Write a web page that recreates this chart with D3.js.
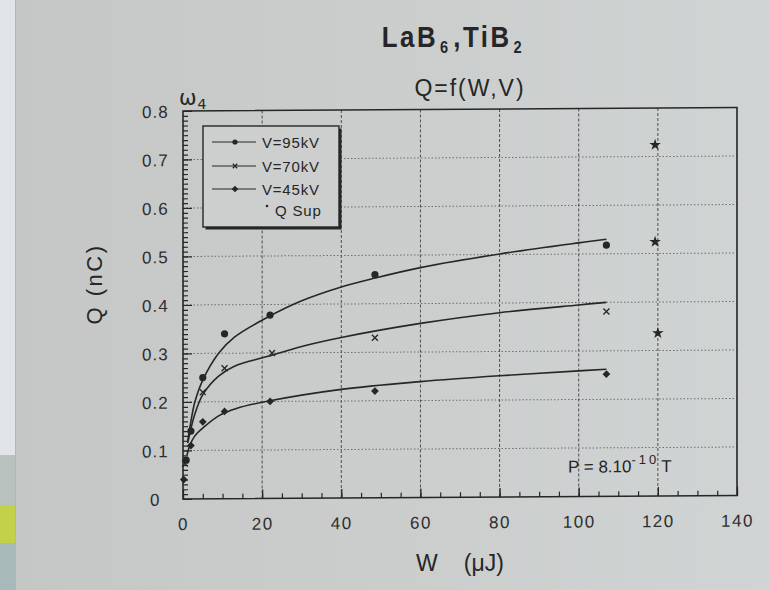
<!DOCTYPE html>
<html><head><meta charset="utf-8">
<script src="https://cdn.jsdelivr.net/npm/d3@7"></script>
<style>html,body{margin:0;padding:0;background:#cbcecc;}svg{display:block;}</style>
</head><body>
<svg id="chart" width="769" height="590"></svg>
<script>
// ---- data ----
const xTicks = [0, 20, 40, 60, 80, 100, 120, 140];
const xTickLabels = ["0", "20", "40", "60", "80", "100", "120", "140"];
const yTicks = [0, 0.1, 0.2, 0.3, 0.4, 0.5, 0.6, 0.7, 0.8];
const yTickLabels = ["0", "0.1", "0.2", "0.3", "0.4", "0.5", "0.6", "0.7", "0.8"];

const seriesNames = ["V=95kV", "V=70kV", "V=45kV", "Q Sup"];

// measured points
const w95 = [0.8, 2, 5, 10.5, 22, 48.5, 107];
const q95 = [0.08, 0.14, 0.25, 0.34, 0.378, 0.46, 0.518];
const w70 = [0.5, 5, 10.5, 22.5, 48.5, 107];
const q70 = [0.073, 0.22, 0.269, 0.30, 0.33, 0.381];
const w45 = [0.2, 2, 5, 10.5, 22, 48.5, 107];
const q45 = [0.04, 0.11, 0.159, 0.18, 0.20, 0.22, 0.252];
const wSup = [119.3, 119.3, 120];
const qSup = [0.724, 0.524, 0.336];

// fitted curves
const cw95 = [1.2, 2, 3, 5, 9, 13, 21, 30, 40, 48.5, 60, 80, 100, 107];
const cq95 = [0.12, 0.16, 0.2, 0.245, 0.3, 0.333, 0.372, 0.407, 0.435, 0.453, 0.474, 0.501, 0.523, 0.530];
const cw70 = [1.2, 2, 3, 5, 9, 13, 21, 30, 40, 60, 80, 100, 107];
const cq70 = [0.115, 0.145, 0.175, 0.215, 0.253, 0.273, 0.292, 0.313, 0.331, 0.359, 0.38, 0.395, 0.40];
const cw45 = [1.0, 1.7, 3, 5, 9, 13.5, 21, 40, 60, 80, 100, 107];
const cq45 = [0.09, 0.11, 0.13, 0.146, 0.171, 0.186, 0.2, 0.224, 0.239, 0.25, 0.259, 0.262];

// ---- drawing ----
const svg = d3.select("#chart");
const ink = "#262626";
const sans = "'Liberation Sans', Arial, Helvetica, sans-serif";

// paper background
const defs = svg.append("defs");
const grad = defs.append("linearGradient").attr("id", "paper").attr("x1", "0").attr("x2", "1").attr("y1", "0").attr("y2", "0");
grad.append("stop").attr("offset", "0").attr("stop-color", "#c4c7c5");
grad.append("stop").attr("offset", "0.55").attr("stop-color", "#cbcecd");
grad.append("stop").attr("offset", "1").attr("stop-color", "#d0d4d4");
svg.append("rect").attr("width", 769).attr("height", 590).attr("fill", "url(#paper)");
// left strip of the photo (outside the paper)
svg.append("rect").attr("x", 0).attr("y", 0).attr("width", 15).attr("height", 455).attr("fill", "#e2e5e7");
svg.append("rect").attr("x", 0).attr("y", 455).attr("width", 15).attr("height", 50).attr("fill", "#b9c2bf");
svg.append("rect").attr("x", 0).attr("y", 505).attr("width", 15).attr("height", 38).attr("fill", "#c2d04a");
svg.append("rect").attr("x", 0).attr("y", 543).attr("width", 15).attr("height", 47).attr("fill", "#a7b9b8");
svg.append("line").attr("x1", 15.5).attr("x2", 15.5).attr("y1", 0).attr("y2", 590).attr("stroke", "#b3b6b4").attr("stroke-width", 1);

// titles
const t1 = svg.append("text").attr("x", 453).attr("y", 47).attr("text-anchor", "middle")
  .attr("font-family", "'Liberation Sans Narrow', 'Liberation Sans', Arial, sans-serif")
  .attr("font-weight", "bold").attr("font-size", 30).attr("fill", ink).attr("letter-spacing", 3)
  .attr("transform", "translate(453,0) scale(0.86,1) translate(-453,0)");
t1.append("tspan").text("LaB");
t1.append("tspan").attr("font-size", 17).attr("dy", 6).attr("dx", 2).text("6");
t1.append("tspan").attr("dy", -6).attr("dx", 3).text(",TiB");
t1.append("tspan").attr("font-size", 17).attr("dy", 6).attr("dx", 2).text("2");

svg.append("text").attr("x", 470).attr("y", 96).attr("text-anchor", "middle")
  .attr("font-family", sans).attr("font-size", 23).attr("fill", ink).attr("letter-spacing", 2)
  .text("Q=f(W,V)");

const om = svg.append("text").attr("x", 179).attr("y", 105).attr("font-family", "'DejaVu Sans', sans-serif")
  .attr("font-size", 21).attr("fill", ink);
om.append("tspan").text("ω");
om.append("tspan").attr("font-size", 14).attr("dy", 4).attr("dx", 1).text("4");

// plot area with slight photographic skew
const X0 = 183, X1 = 737, Y0 = 499, Y1 = 111;
const skew = -0.0063;
const g = svg.append("g").attr("transform", `translate(0,${-skew * X0}) matrix(1,${skew},0,1,0,0)`);

const x = d3.scaleLinear().domain([0, 140]).range([X0, X1]);
const y = d3.scaleLinear().domain([0, 0.8]).range([Y0, Y1]);

// grid
g.append("g").selectAll("line").data(xTicks.slice(1, -1)).join("line")
  .attr("x1", d => x(d)).attr("x2", d => x(d)).attr("y1", Y0).attr("y2", Y1)
  .attr("stroke", "#3a3a3a").attr("stroke-width", 1).attr("stroke-dasharray", "3,2").attr("opacity", 0.85);
g.append("g").selectAll("line").data(yTicks.slice(1, -1)).join("line")
  .attr("x1", X0).attr("x2", X1).attr("y1", d => y(d)).attr("y2", d => y(d))
  .attr("stroke", "#505050").attr("stroke-width", 1).attr("stroke-dasharray", "1.5,2").attr("opacity", 0.75);

// axes (ticks inside)
const xMinor = d3.range(0, 141, 5);
const yMinor = d3.range(0, 81, 1).map(v => v / 100);
const xAxis = d3.axisBottom(x).tickValues(xMinor).tickSize(-5).tickFormat("");
const xAxisMajor = d3.axisBottom(x).tickValues(xTicks).tickSize(-9).tickFormat((d, i) => xTickLabels[i]).tickPadding(19);
const yAxis = d3.axisLeft(y).tickValues(yMinor).tickSize(-5).tickFormat("");
const yAxisMajor = d3.axisLeft(y).tickValues(yTicks).tickSize(-9).tickFormat((d, i) => yTickLabels[i]).tickPadding(26);

function styleAxis(sel) {
  sel.select(".domain").remove();
  sel.selectAll("line").attr("stroke", ink).attr("stroke-width", 1.2);
  sel.selectAll("text").attr("fill", "#2e2e2e").attr("font-family", sans);
}
g.append("g").attr("transform", `translate(0,${Y0})`).call(xAxis).call(styleAxis);
g.append("g").attr("transform", `translate(0,${Y0})`).call(xAxisMajor).call(styleAxis)
  .selectAll("text").attr("font-size", 17).attr("letter-spacing", 1.5);
g.append("g").attr("transform", `translate(${X0},0)`).call(yAxis).call(styleAxis);
g.append("g").attr("transform", `translate(${X0},0)`).call(yAxisMajor).call(styleAxis)
  .selectAll("text").attr("font-size", 17).attr("letter-spacing", 1).attr("text-anchor", "middle").attr("dx", "-0.1em").attr("dy", "0.36em");

// frame
g.append("rect").attr("x", X0).attr("y", Y1).attr("width", X1 - X0).attr("height", Y0 - Y1)
  .attr("fill", "none").attr("stroke", ink).attr("stroke-width", 1.6);

// curves
const line = d3.line().x(d => x(d[0])).y(d => y(d[1])).curve(d3.curveCatmullRom.alpha(0.5));
[[cw95, cq95], [cw70, cq70], [cw45, cq45]].forEach(([ws, qs]) => {
  g.append("path").datum(ws.map((w, i) => [w, qs[i]])).attr("d", line)
    .attr("fill", "none").attr("stroke", ink).attr("stroke-width", 1.6);
});

// markers
function drawX(sel, cx, cy, s) {
  sel.append("path").attr("d", `M${cx - s},${cy - s}L${cx + s},${cy + s}M${cx - s},${cy + s}L${cx + s},${cy - s}`)
    .attr("stroke", ink).attr("stroke-width", 1.3).attr("fill", "none");
}
g.append("g").selectAll("circle").data(w95.map((w, i) => [w, q95[i]])).join("circle")
  .attr("cx", d => x(d[0])).attr("cy", d => y(d[1])).attr("r", 3.6).attr("fill", ink);
const gx = g.append("g");
w70.forEach((w, i) => drawX(gx, x(w), y(q70[i]), 3));
const diamond = d3.symbol().type(d3.symbolSquare).size(30);
g.append("g").selectAll("path").data(w45.map((w, i) => [w, q45[i]])).join("path")
  .attr("d", diamond).attr("transform", d => `translate(${x(d[0])},${y(d[1])}) rotate(45)`).attr("fill", ink);
const star = d3.symbol().type(d3.symbolStar).size(42);
g.append("g").selectAll("path").data(wSup.map((w, i) => [w, qSup[i]])).join("path")
  .attr("d", star).attr("transform", d => `translate(${x(d[0])},${y(d[1])})`).attr("fill", ink);

// annotation
const ann = g.append("text").attr("x", 568).attr("y", 475).attr("font-family", sans)
  .attr("font-size", 17).attr("fill", ink);
ann.append("tspan").text("P = 8.10");
ann.append("tspan").attr("font-size", 13).attr("dy", -8).attr("letter-spacing", 3).text("-10");
ann.append("tspan").attr("dy", 8).attr("dx", 2).text("T");

// legend
const lg = svg.append("g");
const LX = 203, LY = 126, LW = 136, LH = 101;
lg.append("rect").attr("x", LX + 2.5).attr("y", LY + 2.5).attr("width", LW).attr("height", LH).attr("fill", ink);
lg.append("rect").attr("x", LX).attr("y", LY).attr("width", LW).attr("height", LH)
  .attr("fill", "#cccfcd").attr("stroke", ink).attr("stroke-width", 1.4);
const rowY = [142, 166, 189, 210];
seriesNames.forEach((name, i) => {
  const ry = rowY[i];
  if (i < 3) {
    lg.append("line").attr("x1", 212).attr("x2", 256).attr("y1", ry).attr("y2", ry)
      .attr("stroke", ink).attr("stroke-width", 1.2);
    if (i === 0) lg.append("circle").attr("cx", 235).attr("cy", ry).attr("r", 2.6).attr("fill", ink);
    if (i === 1) drawX(lg, 235, ry, 2.2);
    if (i === 2) lg.append("path").attr("d", d3.symbol().type(d3.symbolSquare).size(22)).attr("transform", `translate(235,${ry}) rotate(45)`).attr("fill", ink);
    lg.append("text").attr("x", 262).attr("y", ry + 5.5).attr("font-family", sans).attr("font-size", 15)
      .attr("letter-spacing", 0.8).attr("fill", ink).text(name);
  } else {
    lg.append("circle").attr("cx", 267).attr("cy", ry - 4).attr("r", 1.3).attr("fill", ink);
    lg.append("text").attr("x", 275).attr("y", ry + 5.5).attr("font-family", sans).attr("font-size", 15)
      .attr("letter-spacing", 0.8).attr("fill", ink).text(name);
  }
});

// axis titles
svg.append("text").attr("transform", "translate(102,284) rotate(-90)").attr("text-anchor", "middle")
  .attr("font-family", sans).attr("font-size", 22).attr("letter-spacing", 2.5).attr("fill", ink).text("Q  (nC)");
const xt = svg.append("text").attr("x", 460).attr("y", 571).attr("text-anchor", "middle")
  .attr("font-family", sans).attr("font-size", 23).attr("fill", ink);
xt.append("tspan").text("W");
xt.append("tspan").attr("dx", 26).text("(μJ)");
</script>
</body></html>
